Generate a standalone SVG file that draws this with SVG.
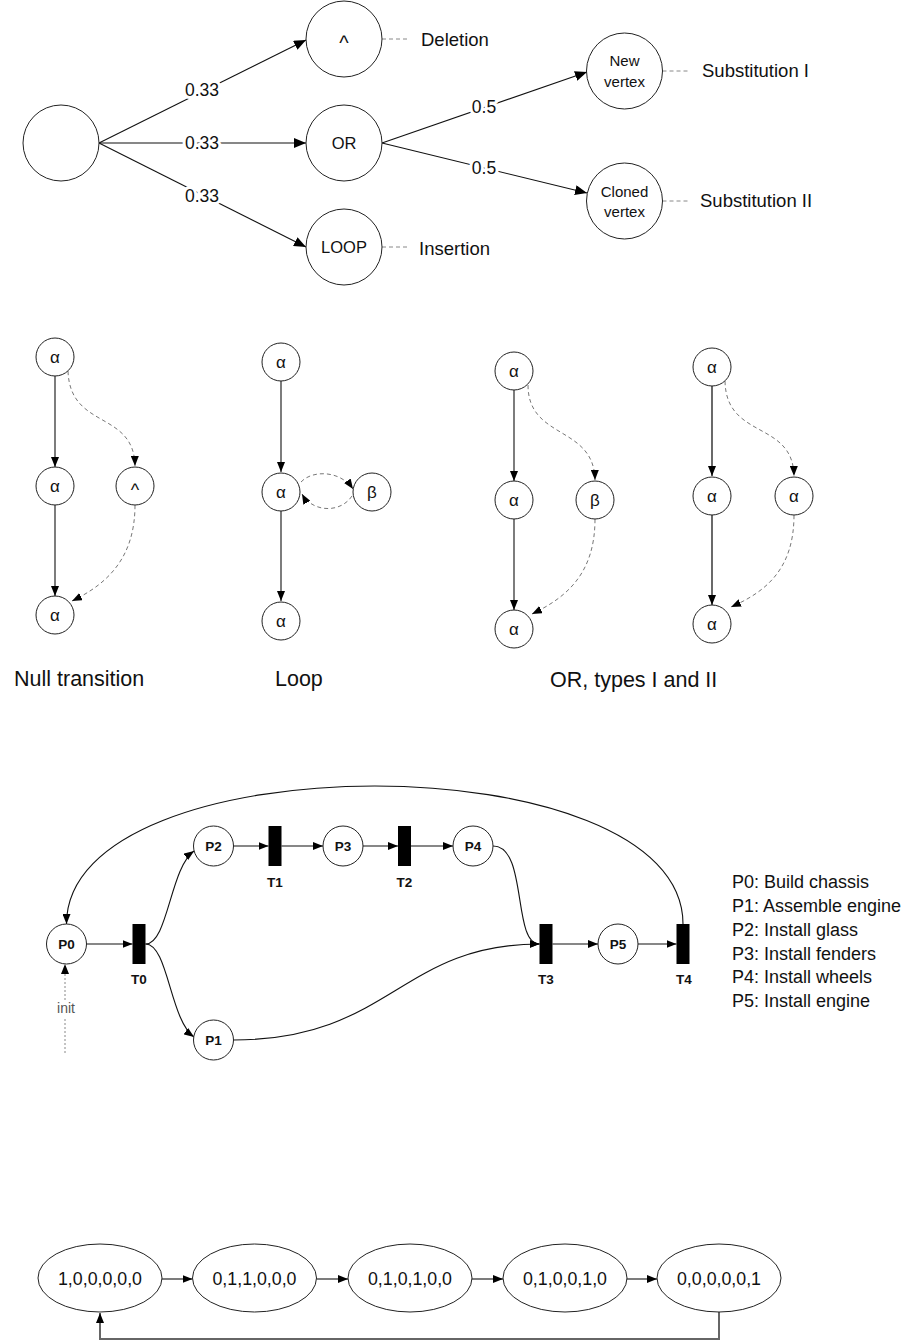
<svg xmlns="http://www.w3.org/2000/svg" width="911" height="1341" viewBox="0 0 911 1341">
<style>
text{font-family:"Liberation Sans",Arial,sans-serif;fill:#111}
.n{fill:#fff;stroke:#222;stroke-width:1}
.e{fill:none;stroke:#111;stroke-width:1.1}
.g{fill:none;stroke:#444;stroke-width:1.6}
.d{fill:none;stroke:#777;stroke-width:1;stroke-dasharray:4,3}
.lead{fill:none;stroke:#888;stroke-width:1;stroke-dasharray:4,3}
.dot{fill:none;stroke:#888;stroke-width:1;stroke-dasharray:2,2}
.fb{fill:none;stroke:#666;stroke-width:2}
.bar{fill:#000}
.c{text-anchor:middle}
.lbl{font-size:17.5px;text-anchor:middle;paint-order:stroke;stroke:#fff;stroke-width:6px;stroke-linejoin:round}
.big{font-size:18.5px}
.cap{font-size:21.5px}
.node{font-size:16.5px;text-anchor:middle}
.sm{font-size:15px;text-anchor:middle}
.gr{font-size:17px;text-anchor:middle}
.pb{font-size:13.5px;font-weight:bold;text-anchor:middle}
.init{font-size:14px;fill:#555;text-anchor:middle}
.leg{font-size:18px}
.st{font-size:17.8px;text-anchor:middle}
</style>
<defs>
<marker id="a" viewBox="0 0 12 10" refX="12" refY="5" markerWidth="12" markerHeight="10" markerUnits="userSpaceOnUse" orient="auto"><path d="M0,0 L12,5 L0,10 z" fill="#000"/></marker>
<marker id="m" viewBox="0 0 10 8" refX="10" refY="4" markerWidth="10" markerHeight="8" markerUnits="userSpaceOnUse" orient="auto"><path d="M0,0 L10,4 L0,8 z" fill="#000"/></marker>
<marker id="s" viewBox="0 0 10 8" refX="10" refY="4" markerWidth="10" markerHeight="8" markerUnits="userSpaceOnUse" orient="auto"><path d="M0,0 L10,4 L0,8 z" fill="#000"/></marker>
</defs>

<g id="connectors">
<path class="e" d="M99,143 L306,40" marker-end="url(#a)"/>
<path class="e" d="M99,143 L306,143" marker-end="url(#a)"/>
<path class="e" d="M99,143 L306,247" marker-end="url(#a)"/>
<path class="e" d="M382,143 L587,72" marker-end="url(#a)"/>
<path class="e" d="M382,143 L587,193" marker-end="url(#a)"/>
<text class="lbl" x="202" y="96">0.33</text>
<text class="lbl" x="202" y="149">0.33</text>
<text class="lbl" x="202" y="202">0.33</text>
<text class="lbl" x="484" y="113">0.5</text>
<text class="lbl" x="484" y="174">0.5</text>
<path class="lead" d="M382,39 H408 M382,247 H408 M662.5,71 H690 M662.5,201 H690"/>

<path class="e" d="M55,376 V467" marker-end="url(#m)"/>
<path class="e" d="M55,505 V596" marker-end="url(#m)"/>
<path class="d" d="M68,371 C70,430 134,410 135,466" marker-end="url(#s)"/>
<path class="d" d="M135,505 C135,560 105,585 72,601" marker-end="url(#s)"/>

<path class="e" d="M281,381 V472" marker-end="url(#m)"/>
<path class="e" d="M281,511 V601" marker-end="url(#m)"/>
<path class="d" d="M301,482 C312,470 340,470 353,489" marker-end="url(#s)"/>
<path class="d" d="M352,496 C340,514 312,512 302,494" marker-end="url(#s)"/>

<path class="e" d="M514,390 V481" marker-end="url(#m)"/>
<path class="e" d="M514,519 V610" marker-end="url(#m)"/>
<path class="d" d="M528,385 C528,440 594,425 595,480" marker-end="url(#s)"/>
<path class="d" d="M595,519 C595,575 565,598 532,614" marker-end="url(#s)"/>

<path class="g" d="M712,386 V476" marker-end="url(#m)"/>
<path class="g" d="M712,515 V605" marker-end="url(#m)"/>
<path class="d" d="M725,381 C726,440 793,420 794,476" marker-end="url(#s)"/>
<path class="d" d="M794,515 C794,570 765,592 731,607" marker-end="url(#s)"/>

<path class="e" d="M86.5,944 H132.5" marker-end="url(#s)"/>
<path class="e" d="M145.5,944 C168,944 170,868 194,851" marker-end="url(#s)"/>
<path class="e" d="M145.5,944 C168,944 170,1020 194,1037" marker-end="url(#s)"/>
<path class="e" d="M233.5,846 H268.5" marker-end="url(#s)"/>
<path class="e" d="M281.5,846 H323" marker-end="url(#s)"/>
<path class="e" d="M363,846 H398" marker-end="url(#s)"/>
<path class="e" d="M411,846 H453" marker-end="url(#s)"/>
<path class="e" d="M493,846 C528,846 512,944 539.5,944" marker-end="url(#s)"/>
<path class="e" d="M233.5,1040 C390,1040 400,944 539.5,944" marker-end="url(#s)"/>
<path class="e" d="M552.5,944 H598" marker-end="url(#s)"/>
<path class="e" d="M638,944 H676.5" marker-end="url(#s)"/>
<path class="e" d="M683,924 C683,740 66.5,740 66.5,924" marker-end="url(#s)"/>
<path class="dot" d="M65,1053 V1018 M65,1000 V964" marker-end="url(#s)"/>
<text class="init" x="66" y="1013">init</text>

<path class="e" d="M162,1279 H192.5" marker-end="url(#m)"/>
<path class="e" d="M316.5,1279 H348" marker-end="url(#m)"/>
<path class="e" d="M472,1279 H503" marker-end="url(#m)"/>
<path class="e" d="M627,1279 H657" marker-end="url(#m)"/>
<path class="fb" d="M719,1312 V1339 H100 V1313" marker-end="url(#m)"/>
</g>

<g id="start"><circle class="n" cx="61" cy="143" r="38"/></g>
<g id="deletion"><circle class="n" cx="344" cy="39" r="38"/><text class="node" x="344" y="50" style="font-size:20px">^</text></g>
<g id="or"><circle class="n" cx="344" cy="143" r="38"/><text class="node" x="344" y="149">OR</text></g>
<g id="loop"><circle class="n" cx="344" cy="247" r="38"/><text class="node" x="344" y="253">LOOP</text></g>
<g id="newvertex"><circle class="n" cx="624.5" cy="71" r="38"/><text class="sm" x="624.5" y="66">New</text><text class="sm" x="624.5" y="87">vertex</text></g>
<g id="clonedvertex"><circle class="n" cx="624.5" cy="201" r="38"/><text class="sm" x="624.5" y="197">Cloned</text><text class="sm" x="624.5" y="217">vertex</text></g>
<g id="labels-top">
<text class="big" x="421" y="46">Deletion</text>
<text class="big" x="419" y="255">Insertion</text>
<text class="big" x="702" y="77">Substitution I</text>
<text class="big" x="700" y="207">Substitution II</text>
</g>

<g id="nt-a1"><circle class="n" cx="55" cy="357" r="19"/><text class="gr" x="55" y="363">α</text></g>
<g id="nt-a2"><circle class="n" cx="55" cy="486" r="19"/><text class="gr" x="55" y="492">α</text></g>
<g id="nt-a3"><circle class="n" cx="55" cy="615" r="19"/><text class="gr" x="55" y="621">α</text></g>
<g id="nt-null"><circle class="n" cx="135" cy="486" r="19"/><text class="gr" x="135" y="496" style="font-size:18px">^</text></g>

<g id="lp-a1"><circle class="n" cx="281" cy="362" r="19"/><text class="gr" x="281" y="368">α</text></g>
<g id="lp-a2"><circle class="n" cx="281" cy="492" r="19"/><text class="gr" x="281" y="498">α</text></g>
<g id="lp-a3"><circle class="n" cx="281" cy="621" r="19"/><text class="gr" x="281" y="627">α</text></g>
<g id="lp-b"><circle class="n" cx="372" cy="492" r="19"/><text class="gr" x="372" y="498">β</text></g>

<g id="or1-a1"><circle class="n" cx="514" cy="371" r="19"/><text class="gr" x="514" y="377">α</text></g>
<g id="or1-a2"><circle class="n" cx="514" cy="500" r="19"/><text class="gr" x="514" y="506">α</text></g>
<g id="or1-a3"><circle class="n" cx="514" cy="629" r="19"/><text class="gr" x="514" y="635">α</text></g>
<g id="or1-b"><circle class="n" cx="595" cy="500" r="19"/><text class="gr" x="595" y="506">β</text></g>

<g id="or2-a1"><circle class="n" cx="712" cy="367" r="19"/><text class="gr" x="712" y="373">α</text></g>
<g id="or2-a2"><circle class="n" cx="712" cy="496" r="19"/><text class="gr" x="712" y="502">α</text></g>
<g id="or2-a3"><circle class="n" cx="712" cy="624" r="19"/><text class="gr" x="712" y="630">α</text></g>
<g id="or2-a4"><circle class="n" cx="794" cy="496" r="19"/><text class="gr" x="794" y="502">α</text></g>

<g id="captions">
<text class="cap" x="14" y="686">Null transition</text>
<text class="cap" x="275" y="686">Loop</text>
<text class="cap" x="550" y="687">OR, types I and II</text>
</g>

<g id="P0"><circle class="n" cx="66.5" cy="944" r="20"/><text class="pb" x="66.5" y="949">P0</text></g>
<g id="P1"><circle class="n" cx="213.5" cy="1040" r="20"/><text class="pb" x="213.5" y="1045">P1</text></g>
<g id="P2"><circle class="n" cx="213.5" cy="846" r="20"/><text class="pb" x="213.5" y="851">P2</text></g>
<g id="P3"><circle class="n" cx="343" cy="846" r="20"/><text class="pb" x="343" y="851">P3</text></g>
<g id="P4"><circle class="n" cx="473" cy="846" r="20"/><text class="pb" x="473" y="851">P4</text></g>
<g id="P5"><circle class="n" cx="618" cy="944" r="20"/><text class="pb" x="618" y="949">P5</text></g>
<g id="T0"><rect class="bar" x="132.5" y="924" width="13" height="40"/><text class="pb" x="139" y="984">T0</text></g>
<g id="T1"><rect class="bar" x="268.5" y="826" width="13" height="40"/><text class="pb" x="275" y="887">T1</text></g>
<g id="T2"><rect class="bar" x="398" y="826" width="13" height="40"/><text class="pb" x="404.5" y="887">T2</text></g>
<g id="T3"><rect class="bar" x="539.5" y="924" width="13" height="40"/><text class="pb" x="546" y="984">T3</text></g>
<g id="T4"><rect class="bar" x="676.5" y="924" width="13" height="40"/><text class="pb" x="684" y="984">T4</text></g>

<g id="legend">
<text class="leg" x="732" y="888">P0: Build chassis</text>
<text class="leg" x="732" y="912">P1: Assemble engine</text>
<text class="leg" x="732" y="936">P2: Install glass</text>
<text class="leg" x="732" y="960">P3: Install fenders</text>
<text class="leg" x="732" y="983">P4: Install wheels</text>
<text class="leg" x="732" y="1007">P5: Install engine</text>
</g>

<g id="S1"><ellipse class="n" cx="100" cy="1278" rx="62" ry="34"/><text class="st" x="100" y="1284.5">1,0,0,0,0,0</text></g>
<g id="S2"><ellipse class="n" cx="254.5" cy="1278" rx="62" ry="34"/><text class="st" x="254.5" y="1284.5">0,1,1,0,0,0</text></g>
<g id="S3"><ellipse class="n" cx="410" cy="1278" rx="62" ry="34"/><text class="st" x="410" y="1284.5">0,1,0,1,0,0</text></g>
<g id="S4"><ellipse class="n" cx="565" cy="1278" rx="62" ry="34"/><text class="st" x="565" y="1284.5">0,1,0,0,1,0</text></g>
<g id="S5"><ellipse class="n" cx="719" cy="1278" rx="62" ry="34"/><text class="st" x="719" y="1284.5">0,0,0,0,0,1</text></g>
</svg>
